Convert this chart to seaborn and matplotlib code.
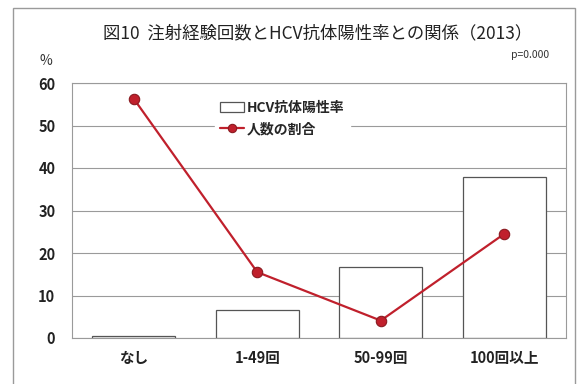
import seaborn as sns
import matplotlib.pyplot as plt
from matplotlib.patches import Rectangle

categories = ["なし", "1-49回", "50-99回", "100回以上"]
hcv_positive = [0.5, 6.5, 16.7, 38.0]
share_of_people = [56.3, 15.5, 4.1, 24.5]
y_ticks = [0, 10, 20, 30, 40, 50, 60]

sns.set_theme(style="white")
plt.rcParams['font.family'] = ['Noto Sans CJK JP', 'DejaVu Sans']

fig = plt.figure(figsize=(5.8, 3.84), dpi=100)
ax = fig.add_axes([72 / 580, 1 - 338 / 384, (566 - 72) / 580, (338 - 83) / 384])

# outer frame around the whole chart
fig.patches.append(Rectangle((13 / 580, -0.02), (575 - 13) / 580, 1.0 - 8 / 384 + 0.02,
                             transform=fig.transFigure, fill=False,
                             edgecolor='#9a9a9a', linewidth=1.0))

sns.barplot(x=categories, y=hcv_positive, ax=ax, color='white', edgecolor='#555555',
            linewidth=0.9, width=0.67, label='HCV抗体陽性率', zorder=2)
sns.pointplot(x=categories, y=share_of_people, ax=ax, color='#c0202c', markers='o',
              markersize=7.5, markeredgecolor='#8a1a20', markeredgewidth=0.8,
              linewidth=1.6, label='人数の割合', zorder=3)

ax.set_ylim(0, 60)
ax.set_yticks(y_ticks)
ax.yaxis.grid(True, color='#9a9a9a', linewidth=0.8, zorder=0)
ax.set_axisbelow(True)
for s in ax.spines.values():
    s.set_color('#9a9a9a')
    s.set_linewidth(0.8)
ax.tick_params(axis='both', length=0, labelsize=10.5, colors='#222222')
ax.tick_params(axis='x', pad=9)
ax.tick_params(axis='y', pad=12)
for lbl in ax.get_xticklabels() + ax.get_yticklabels():
    lbl.set_fontweight('bold')
ax.set_xlabel('')
ax.set_ylabel('')

handles, labels = ax.get_legend_handles_labels()
order = [labels.index('HCV抗体陽性率'), labels.index('人数の割合')]
leg = ax.legend([handles[i] for i in order], [labels[i] for i in order],
                loc='upper left', bbox_to_anchor=(0.275, 0.98), frameon=True,
                fancybox=False, edgecolor='white', framealpha=1.0,
                fontsize=10, handlelength=1.7, handletextpad=0.2, labelspacing=0.55,
                markerscale=0.8)
for t in leg.get_texts():
    t.set_fontweight('bold')

fig.text(318 / 580, 1 - 33 / 384, '図10  注射経験回数とHCV抗体陽性率との関係（2013）',
         ha='center', va='center', fontsize=12.5, color='#222222')
fig.text(530 / 580, 1 - 55 / 384, 'p=0.000', ha='center', va='center',
         fontsize=7.5, color='#333333')
fig.text(46 / 580, 1 - 61 / 384, '%', ha='center', va='center', fontsize=10,
         color='#333333')

fig.savefig('out.png', dpi=100)
